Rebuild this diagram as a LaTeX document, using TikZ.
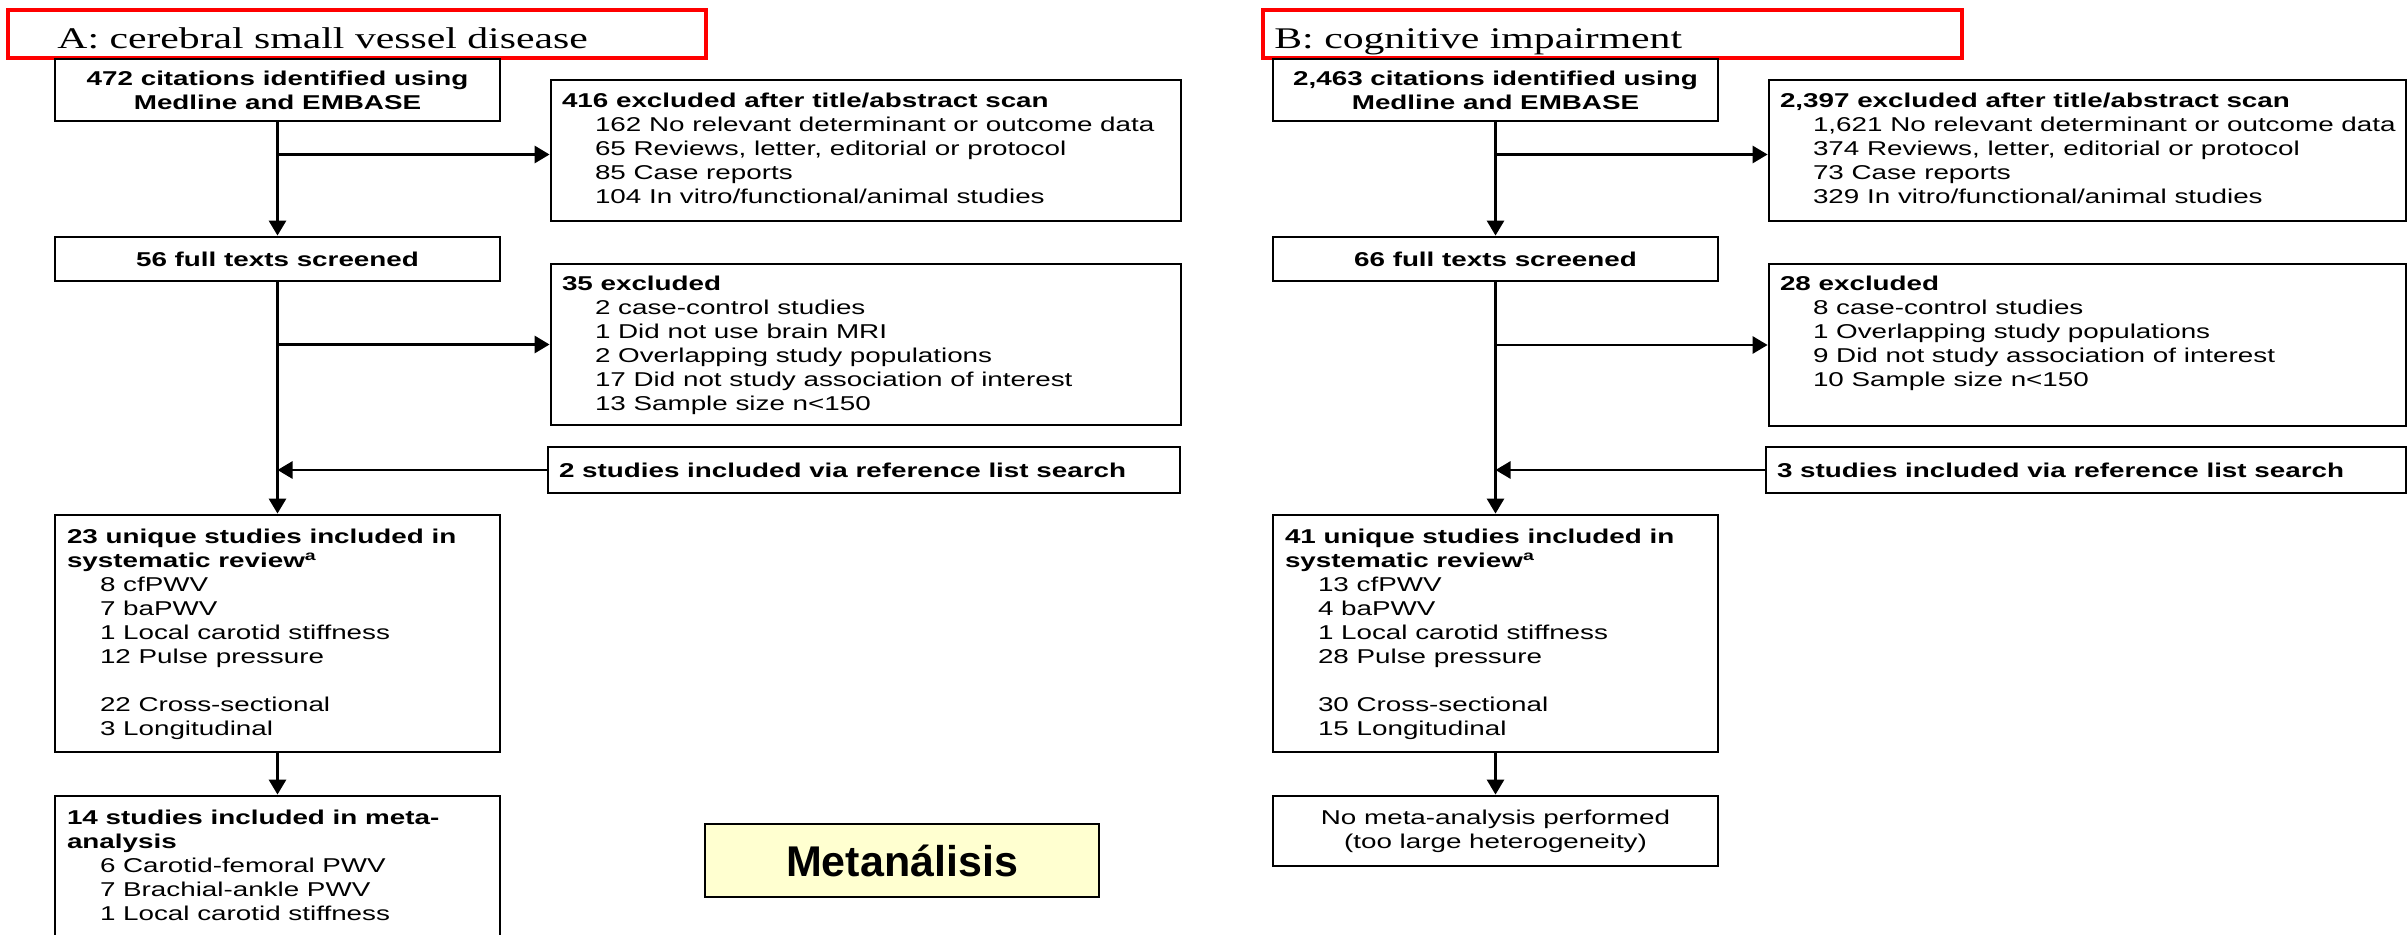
\documentclass[tikz,border=0pt]{standalone}
\usepackage{fontspec}
\setmainfont{Liberation Sans}[FakeStretch=1.39]
\newfontfamily\ttlfont{Liberation Serif}[FakeStretch=1.39]
\newfontfamily\metanfont{Liberation Sans}
\usetikzlibrary{arrows.meta}
\definecolor{metafill}{RGB}{255,255,208}
\newcommand{\indt}{\hspace*{16.5pt}}
\begin{document}
\begin{tikzpicture}[x=0.5pt,y=-0.5pt,
  box/.style={draw, line width=1.4pt, inner sep=0pt},
  lbox/.style={box, minimum width=222.5pt},
  txt/.style={inner sep=0pt, align=left, anchor=north west, font=\fontsize{10}{12}\selectfont},
  ctxt/.style={align=center, font=\fontsize{10}{12}\selectfont},
  ctxtb/.style={align=center, font=\fontsize{10}{12}\selectfont\bfseries},
  redbox/.style={draw=red, line width=2pt, inner sep=0pt, minimum height=24pt},
  ttl/.style={inner sep=0pt, anchor=base west, font=\ttlfont\fontsize{15}{18}\selectfont},
  arr/.style={line width=1.4pt, -{Triangle[length=7.5pt,width=8.5pt]}}
]
\useasboundingbox (0,0) rectangle (2408,935);
\fill[white] (0,0) rectangle (2408,935);
\clip (0,0) rectangle (2408,935);

% ---------------- Panel A ----------------
\node[redbox, minimum width=349pt] (redA) at (357,34) {};
\node[ttl] (ttlA) at (57,49) {A: cerebral small vessel disease};

\node[lbox, minimum height=31pt, ctxtb] (a1) at (277.5,90) {472 citations identified using\\Medline and EMBASE};
\node[lbox, minimum height=22pt, ctxtb] (a3) at (277.5,259) {56 full texts screened};
\node[lbox, minimum height=118.5pt] (a5) at (277.5,633.5) {};
\node[lbox, minimum height=102pt] (a6) at (277.5,898) {};

\node[box, minimum width=315pt, minimum height=70.5pt] (a2) at (866,150.5) {};
\node[box, minimum width=315pt, minimum height=80.5pt] (a4) at (866,344.5) {};
\node[box, minimum width=316pt, minimum height=23pt] (a7) at (864,470) {};

\node[txt] (a2t) at ([shift={(12,14)}]a2.north west) {\textbf{416 excluded after title/abstract scan}\\
\indt 162 No relevant determinant or outcome data\\
\indt 65 Reviews, letter, editorial or protocol\\
\indt 85 Case reports\\
\indt 104 In vitro/functional/animal studies};

\node[txt] (a4t) at ([shift={(12,13)}]a4.north west) {\textbf{35 excluded}\\
\indt 2 case-control studies\\
\indt 1 Did not use brain MRI\\
\indt 2 Overlapping study populations\\
\indt 17 Did not study association of interest\\
\indt 13 Sample size n<150};

\node[txt, anchor=west] (a7t) at ([xshift=6pt]a7.west) {\textbf{2 studies included via reference list search}};

\node[txt] (a5t) at ([shift={(13,15)}]a5.north west) {\textbf{23 unique studies included in}\\
\textbf{systematic review\textsuperscript{a}}\\
\indt 8 cfPWV\\
\indt 7 baPWV\\
\indt 1 Local carotid stiffness\\
\indt 12 Pulse pressure\\[12pt]
\indt 22 Cross-sectional\\
\indt 3 Longitudinal};

\node[txt] (a6t) at ([shift={(13,15)}]a6.north west) {\textbf{14 studies included in meta-}\\
\textbf{analysis}\\
\indt 6 Carotid-femoral PWV\\
\indt 7 Brachial-ankle PWV\\
\indt 1 Local carotid stiffness};

\draw[arr] (a1.south) -- (a3.north);
\draw[arr] ([yshift=-2pt]a1.south |- a2.west) -- ([yshift=-2pt]a2.west);
\draw[arr] (a3.south) -- (a5.north);
\draw[arr] (a3.south |- a4.west) -- (a4.west);
\draw[arr] (a7.west) -- (a7.west -| a3.south);
\draw[arr] (a5.south) -- (a6.north);

\node[draw, line width=1pt, fill=metafill, minimum width=197pt, minimum height=36.5pt, inner sep=0pt,
  font=\metanfont\bfseries\fontsize{21.5}{24}\selectfont] (meta) at (902,860.5) {Metanálisis};

% ---------------- Panel B ----------------
\node[redbox, minimum width=349.5pt] (redB) at (1612.5,34) {};
\node[ttl] (ttlB) at (1274,49) {B: cognitive impairment};

\node[lbox, minimum height=31pt, ctxtb] (b1) at (1495.5,90) {2,463 citations identified using\\Medline and EMBASE};
\node[lbox, minimum height=22pt, ctxtb] (b3) at (1495.5,259) {66 full texts screened};
\node[lbox, minimum height=118.5pt] (b5) at (1495.5,633.5) {};
\node[lbox, minimum height=35pt, ctxt] (b6) at (1495.5,831) {No meta-analysis performed\\(too large heterogeneity)};

\node[box, minimum width=318.5pt, minimum height=70.5pt] (b2) at (2087.5,150.5) {};
\node[box, minimum width=318.5pt, minimum height=81pt] (b4) at (2087.5,345) {};
\node[box, minimum width=320pt, minimum height=23pt] (b7) at (2086,470) {};

\node[txt] (b2t) at ([shift={(12,14)}]b2.north west) {\textbf{2,397 excluded after title/abstract scan}\\
\indt 1,621 No relevant determinant or outcome data\\
\indt 374 Reviews, letter, editorial or protocol\\
\indt 73 Case reports\\
\indt 329 In vitro/functional/animal studies};

\node[txt] (b4t) at ([shift={(12,13)}]b4.north west) {\textbf{28 excluded}\\
\indt 8 case-control studies\\
\indt 1 Overlapping study populations\\
\indt 9 Did not study association of interest\\
\indt 10 Sample size n<150};

\node[txt, anchor=west] (b7t) at ([xshift=6pt]b7.west) {\textbf{3 studies included via reference list search}};

\node[txt] (b5t) at ([shift={(13,15)}]b5.north west) {\textbf{41 unique studies included in}\\
\textbf{systematic review\textsuperscript{a}}\\
\indt 13 cfPWV\\
\indt 4 baPWV\\
\indt 1 Local carotid stiffness\\
\indt 28 Pulse pressure\\[12pt]
\indt 30 Cross-sectional\\
\indt 15 Longitudinal};

\draw[arr] (b1.south) -- (b3.north);
\draw[arr] ([yshift=-2pt]b1.south |- b2.west) -- ([yshift=-2pt]b2.west);
\draw[arr] (b3.south) -- (b5.north);
\draw[arr] (b3.south |- b4.west) -- (b4.west);
\draw[arr] (b7.west) -- (b7.west -| b3.south);
\draw[arr] (b5.south) -- (b6.north);
\end{tikzpicture}
\end{document}
